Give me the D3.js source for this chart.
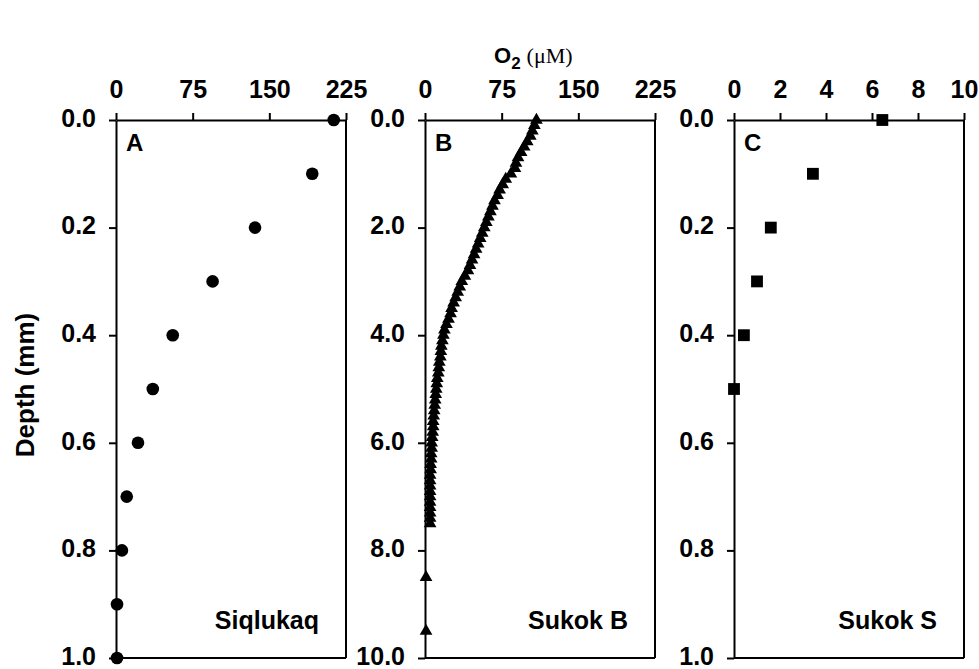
<!DOCTYPE html>
<html>
<head>
<meta charset="utf-8">
<script src="https://cdn.jsdelivr.net/npm/d3@7"></script>
<style>
  html, body { margin: 0; padding: 0; background: #fff; }
  svg text { font-family: "Liberation Sans", Arial, sans-serif; font-weight: bold; fill: #000; }
</style>
</head>
<body>
<svg id="chart" width="979" height="669"></svg>
<script>
// ---- Data ----
// Panel A: Siqlukaq (circles)
const depthA = [0.0, 0.1, 0.2, 0.3, 0.4, 0.5, 0.6, 0.7, 0.8, 0.9, 1.0];
const o2A    = [213, 192, 136, 94.5, 55.5, 36, 21.5, 10.5, 5.8, 1, 1];

// Panel B: Sukok B (triangles)
const depthB = [0.0,0.1,0.2,0.3,0.4,0.5,0.6,0.7,0.8,0.9,
                1.0,1.1,1.2,1.3,1.4,1.5,1.6,1.7,1.8,1.9,
                2.0,2.1,2.2,2.3,2.4,2.5,2.6,2.7,2.8,2.9,
                3.0,3.1,3.2,3.3,3.4,3.5,3.6,3.7,3.8,3.9,
                4.0,4.1,4.2,4.3,4.4,4.5,4.6,4.7,4.8,4.9,
                5.0,5.1,5.2,5.3,5.4,5.5,5.6,5.7,5.8,5.9,
                6.0,6.1,6.2,6.3,6.4,6.5,6.6,6.7,6.8,6.9,
                7.0,7.1,7.2,7.3,7.4,7.5,8.5,9.5];
const o2B    = [109,107,105,103,100,97,94,91,89,88,
                84,79,76,73,71,68,66,64,62,60,
                58,56,54,52,50,48,46,44,42,39,
                36,34,32,30,28,26,25,23,21,19,
                18,17,16,15.5,15,14,13.5,13,12,11.5,
                11,10.5,10,9.5,9,8.5,8,8,7.5,7,
                6.5,6.5,6,6,5.5,5.5,5,5,5,5,
                5,5,5,5,5,5,1,1];

// Panel C: Sukok S (squares)
const depthC = [0.0, 0.1, 0.2, 0.3, 0.4, 0.5];
const o2C    = [6.45, 3.43, 1.6, 1.0, 0.43, 0.0];

// Axis ticks
const xTicksA = [0, 75, 150, 225];
const xTicksB = [0, 75, 150, 225];
const xTicksC = [0, 2, 4, 6, 8, 10];
const yTicksA = [0.0, 0.2, 0.4, 0.6, 0.8, 1.0];
const yTicksB = [0, 2, 4, 6, 8, 10];
const yTicksC = [0.0, 0.2, 0.4, 0.6, 0.8, 1.0];

const panelLetters = ["A", "B", "C"];
const siteNames = ["Siqlukaq", "Sukok B", "Sukok S"];

// ---- Layout ----
const svg = d3.select("#chart");
const plotTop = 120, plotBottom = 658;
const lefts = [116, 425, 734];
const pw = 230;
const FS = 25;

const panels = [
  {depth: depthA, o2: o2A, xdom: [0, 225], ydom: [0, 1], xt: xTicksA, yt: yTicksA, sym: d3.symbolCircle, size: 125},
  {depth: depthB, o2: o2B, xdom: [0, 225], ydom: [0, 10], xt: xTicksB, yt: yTicksB, sym: d3.symbolTriangle, size: 70},
  {depth: depthC, o2: o2C, xdom: [0, 10], ydom: [0, 1], xt: xTicksC, yt: yTicksC, sym: d3.symbolSquare, size: 140}
];

panels.forEach((p, i) => {
  const x0 = lefts[i];
  const x = d3.scaleLinear().domain(p.xdom).range([x0, x0 + pw]);
  const y = d3.scaleLinear().domain(p.ydom).range([plotTop, plotBottom]);
  const g = svg.append("g");

  g.append("line").attr("x1", x0 + pw).attr("x2", x0 + pw).attr("y1", plotTop).attr("y2", plotBottom)
    .attr("stroke", "#000").attr("stroke-width", 2);
  g.append("line").attr("x1", x0).attr("x2", x0 + pw).attr("y1", plotBottom).attr("y2", plotBottom)
    .attr("stroke", "#000").attr("stroke-width", 2);

  const xa = g.append("g").attr("transform", `translate(0,${plotTop})`)
    .call(d3.axisTop(x).tickValues(p.xt).tickFormat(d3.format("d")).tickSize(7).tickSizeOuter(0).tickPadding(15));
  const ya = g.append("g").attr("transform", `translate(${x0},0)`)
    .call(d3.axisLeft(y).tickValues(p.yt).tickFormat(d3.format(".1f")).tickSize(7).tickSizeOuter(0).tickPadding(13));
  [xa, ya].forEach(a => {
    a.attr("font-family", null).attr("font-size", null);
    a.select(".domain").attr("stroke-width", 2);
    a.selectAll(".tick line").attr("stroke-width", 2);
    a.selectAll(".tick text").style("font-size", FS + "px").attr("fill", "#000");
  });
  ya.selectAll(".tick text").attr("dy", "0.25em");

  const symbol = d3.symbol().type(p.sym).size(p.size);
  g.selectAll("path.pt").data(p.depth.map((d, k) => ({d, v: p.o2[k]})))
    .enter().append("path").attr("class", "pt")
    .attr("d", symbol)
    .attr("transform", d => `translate(${x(d.v)},${y(d.d)})`)
    .attr("fill", "#000");

  g.append("text").attr("x", x0 + 10).attr("y", 151).style("font-size", "24px").text(panelLetters[i]);
  g.append("text").attr("x", x0 + pw - 27).attr("y", 629).attr("text-anchor", "end")
    .style("font-size", FS + "px").text(siteNames[i]);
});

svg.append("text").attr("transform", "translate(34,385) rotate(-90)").attr("text-anchor", "middle")
  .style("font-size", "26px").text("Depth (mm)");

const t = svg.append("text").attr("x", 494).attr("y", 63).style("font-size", "22px");
t.append("tspan").text("O");
t.append("tspan").attr("dy", 6).style("font-size", "17px").text("2");
t.append("tspan").attr("dy", -6).attr("dx", 6).style("font-family", "'Liberation Serif', 'Times New Roman', serif")
  .style("font-weight", "normal").style("font-size", "22px").text("(\u03BCM)");
</script>
</body>
</html>
